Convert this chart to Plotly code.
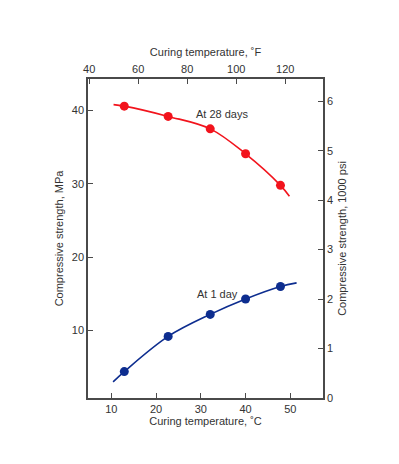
import plotly.graph_objects as go

# Data
temp_c = [12.9, 22.7, 32.1, 40.0, 47.8]
strength_28d = [40.6, 39.2, 37.5, 34.1, 29.8]
strength_1d = [4.4, 9.2, 12.2, 14.3, 16.0]

# Fitted curves (approximate points along the drawn lines)
curve_28d_x = [10.5, 12.9, 22.7, 32.1, 40.0, 47.8, 49.8]
curve_28d_y = [40.8, 40.6, 39.2, 37.5, 34.1, 29.8, 28.3]
curve_1d_x = [10.4, 12.9, 22.7, 32.1, 40.0, 47.8, 51.4]
curve_1d_y = [3.0, 4.4, 9.2, 12.2, 14.3, 16.0, 16.5]

x_c_ticks = [10, 20, 30, 40, 50]
x_f_ticks = [40, 60, 80, 100, 120]
y_mpa_ticks = [10, 20, 30, 40]
y_psi_ticks = [0, 1, 2, 3, 4, 5, 6]

RED = "#f2131c"
BLUE = "#0d2d8f"
AX = "#4a4a4a"
TXT = "#333333"
FONT = "Liberation Sans, Arial, sans-serif"

fig = go.Figure()
fig.add_trace(go.Scatter(x=curve_28d_x, y=curve_28d_y, mode="lines",
                         line=dict(color=RED, width=1.6, shape="spline", smoothing=1.0),
                         showlegend=False, hoverinfo="skip"))
fig.add_trace(go.Scatter(x=temp_c, y=strength_28d, mode="markers",
                         marker=dict(color=RED, size=9), showlegend=False))
fig.add_trace(go.Scatter(x=curve_1d_x, y=curve_1d_y, mode="lines",
                         line=dict(color=BLUE, width=1.6, shape="spline", smoothing=1.0),
                         showlegend=False, hoverinfo="skip"))
fig.add_trace(go.Scatter(x=temp_c, y=strength_1d, mode="markers",
                         marker=dict(color=BLUE, size=9), showlegend=False))
# dummy traces to activate secondary axes
fig.add_trace(go.Scatter(x=[None], y=[None], xaxis="x2", yaxis="y", showlegend=False))
fig.add_trace(go.Scatter(x=[None], y=[None], xaxis="x", yaxis="y2", showlegend=False))

fig.add_annotation(x=34.8, y=39.5, text="At 28 days", showarrow=False,
                   font=dict(size=11, color=TXT, family=FONT))
fig.add_annotation(x=33.7, y=15.0, text="At 1 day", showarrow=False,
                   font=dict(size=11, color=TXT, family=FONT))

axis_common = dict(showgrid=False, zeroline=False, showline=True, linecolor=AX,
                   linewidth=1.5, ticks="inside", ticklen=5, tickwidth=1.3,
                   tickcolor=AX, tickfont=dict(size=11, color=TXT, family=FONT))

# page body has an 8px margin, so the figure is sized to fit inside the window
fig.update_layout(
    width=391, height=456,
    margin=dict(l=80, r=76, t=71, b=66),
    paper_bgcolor="white", plot_bgcolor="white",
    font=dict(family=FONT, size=11, color=TXT),
    xaxis=dict(range=[4.79, 57.3], tickvals=x_c_ticks,
               title=dict(text="Curing temperature, ˚C", standoff=2,
                          font=dict(size=11, color=TXT)),
               **axis_common),
    xaxis2=dict(range=[39.5, 135.4], tickvals=x_f_ticks, overlaying="x", side="top",
                title=dict(text="Curing temperature, ˚F", standoff=4,
                           font=dict(size=11, color=TXT)),
                **axis_common),
    yaxis=dict(range=[0.8, 44.3], tickvals=y_mpa_ticks,
               title=dict(text="Compressive strength, MPa", standoff=6,
                          font=dict(size=11, color=TXT)),
               **axis_common),
    yaxis2=dict(range=[0, 6.45], tickvals=y_psi_ticks, overlaying="y", side="right",
                title=dict(text="Compressive strength, 1000 psi", standoff=6,
                           font=dict(size=11, color=TXT)),
                **axis_common),
)

fig.write_html("out.html")
